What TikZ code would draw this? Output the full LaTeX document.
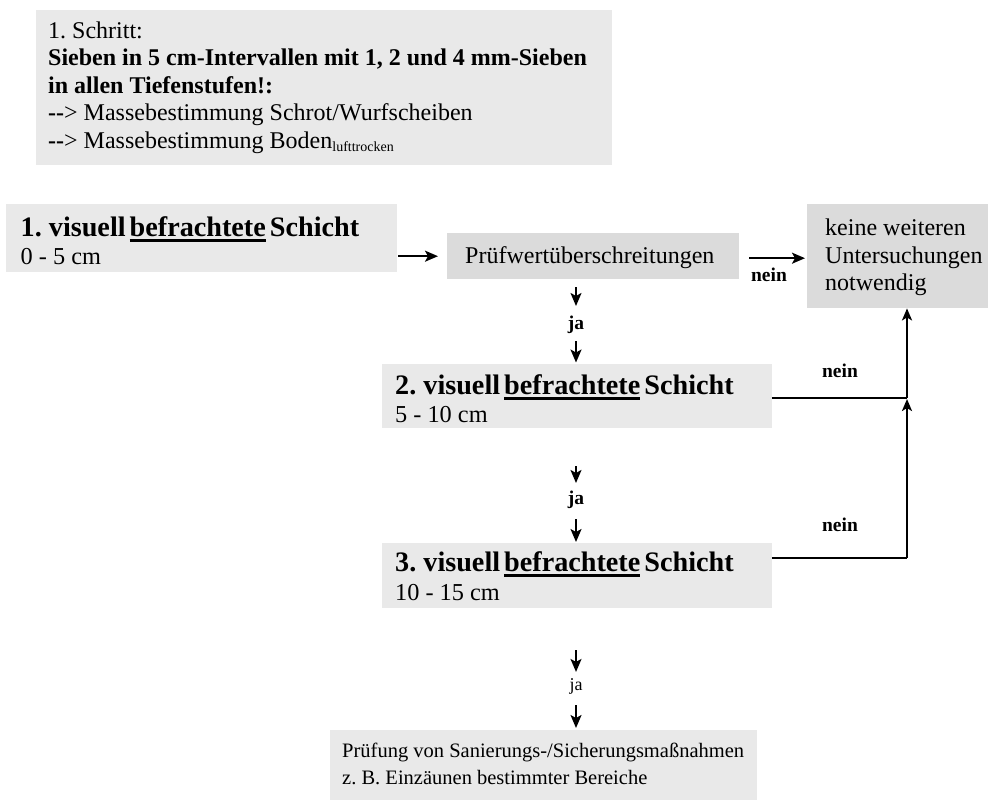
\documentclass[tikz,border=0pt]{standalone}
\usepackage{fontspec}
\setmainfont{Liberation Serif}
\usetikzlibrary{arrows.meta}
\definecolor{boxlight}{HTML}{E9E9E9}
\definecolor{boxdark}{HTML}{DBDBDB}
\newcommand\thickul[1]{\leavevmode\vtop{\hbox{#1}\kern3pt\hrule height 3pt}}
\frenchspacing
\begin{document}
\begin{tikzpicture}[x=1pt,y=-1pt,
  gbox/.style={fill=boxlight, draw=none, anchor=north west, inner sep=0pt},
  dbox/.style={fill=boxdark, draw=none, anchor=north west, inner sep=0pt},
  txt/.style={anchor=base west, inner sep=0pt},
  toptxt/.style={txt, font=\fontsize{24}{27}\selectfont},
  ttl/.style={txt, font=\fontsize{28.2}{32}\selectfont\bfseries},
  sub/.style={txt, font=\fontsize{24.3}{28}\selectfont},
  arr/.style={line width=1.9pt, -{Stealth[length=13pt,width=11pt,inset=3pt]}},
  conn/.style={line width=2.8pt},
  lbl/.style={font=\fontsize{19.5}{20}\selectfont\bfseries, inner sep=0pt},
  lblr/.style={font=\fontsize{18}{20}\selectfont, inner sep=0pt}]
\useasboundingbox (0,0) rectangle (988,801);

% top box
\node[gbox, minimum width=576pt, minimum height=155pt] (step1) at (36,10) {};
\node[toptxt] (t1) at (48,38) {1. Schritt:};
\node[toptxt, font=\fontsize{24}{27}\selectfont\bfseries] (t2) at (48,65.5) {Sieben in 5 cm-Intervallen mit 1, 2 und 4 mm-Sieben};
\node[toptxt, font=\fontsize{24}{27}\selectfont\bfseries] (t3) at (48,93) {in allen Tiefenstufen!:};
\node[toptxt] (t4) at (48,120.5) {\textbf{-{}-}> Massebestimmung Schrot/Wurfscheiben};
\node[toptxt] (t5) at (48,148) {\textbf{-{}-}> Massebestimmung Boden\textsubscript{\fontsize{14}{14}\selectfont lufttrocken}};

% box 1
\node[gbox, minimum width=391pt, minimum height=68pt] (s1) at (6,204) {};
\node[ttl] (s1a) at (20.5,236) {1. visuell\hspace{4pt}\thickul{befrachtete}\hspace{4pt}Schicht};
\node[sub] (s1b) at (20.5,264) {0 - 5 cm};

% Pruefwert
\node[dbox, minimum width=292pt, minimum height=46pt] (pw) at (447,233) {};
\node[txt, font=\fontsize{24}{26}\selectfont] (pwt) at (465,263) {Prüfwertüberschreitungen};

% keine weiteren
\node[dbox, minimum width=181pt, minimum height=104pt] (kw) at (807,204) {};
\node[txt, font=\fontsize{24}{26}\selectfont] (kw1) at (825,235) {keine weiteren};
\node[txt, font=\fontsize{24}{26}\selectfont] (kw2) at (825,263) {Untersuchungen};
\node[txt, font=\fontsize{24}{26}\selectfont] (kw3) at (825,290) {notwendig};

% box 2
\node[gbox, minimum width=390pt, minimum height=64.5pt] (s2) at (381.5,363.5) {};
\node[ttl] (s2a) at (395,394) {2. visuell\hspace{4pt}\thickul{befrachtete}\hspace{4pt}Schicht};
\node[sub] (s2b) at (395,422.5) {5 - 10 cm};

% box 3
\node[gbox, minimum width=390pt, minimum height=65pt] (s3) at (381.5,543) {};
\node[ttl] (s3a) at (395,571) {3. visuell\hspace{4pt}\thickul{befrachtete}\hspace{4pt}Schicht};
\node[sub] (s3b) at (395,600.5) {10 - 15 cm};

% final box
\node[gbox, minimum width=427pt, minimum height=70pt] (fin) at (330,730) {};
\node[txt, font=\fontsize{20.5}{26}\selectfont] (fin1) at (342,757) {Prüfung von Sanierungs-/Sicherungsmaßnahmen};
\node[txt, font=\fontsize{20.5}{26}\selectfont] (fin2) at (342,784) {z. B. Einzäunen bestimmter Bereiche};

% labels
\node[lbl] (ja1) at (576,325) {ja};
\node[lbl] (ja2) at (576,500) {ja};
\node[lblr] (ja3) at (576,686) {ja};
\node[lbl] (nein1) at (769,275) {nein};
\node[lbl] (nein2) at (840,371) {nein};
\node[lbl] (nein3) at (840,525) {nein};
\coordinate (j2) at (907,398);
\coordinate (j3) at (907,558);

% connectors
\draw[arr] ([xshift=1pt,yshift=-18pt]s1.east) -- ([xshift=-9pt,yshift=-18pt]s1.east -| pw.west);
\draw[arr] ([xshift=10pt,yshift=-2pt]pw.east) -- ([xshift=-2pt,yshift=-2pt]kw.west |- pw.east);
\draw[arr] ([yshift=-8pt]pw.south -| ja1) -- ([yshift=10pt]ja1.north);
\draw[arr] ([yshift=-7pt]ja1.south) -- ([yshift=1pt]ja1.south |- s2.north);
\draw[arr] ([yshift=-38pt]s2.south -| ja2) -- ([yshift=8pt]ja2.north);
\draw[arr] ([yshift=-10pt]ja2.south) -- ([yshift=1pt]ja2.south |- s3.north);
\draw[arr] ([yshift=-42pt]s3.south -| ja3) -- ([yshift=6pt]ja3.north);
\draw[arr] ([yshift=-11pt]ja3.south) -- ([yshift=2pt]ja3.south |- fin.north);

\draw[conn] (s2.east |- j2) -- (j2);
\draw[conn] (s3.east |- j3) -- (j3);
\draw[conn, -{Stealth[length=12pt,width=10pt,inset=3pt]}] (j3) -- ([yshift=-1pt]j2);
\draw[conn, -{Stealth[length=12pt,width=10pt,inset=3pt]}] (j2) -- (j2 |- kw.south);
\end{tikzpicture}
\end{document}
